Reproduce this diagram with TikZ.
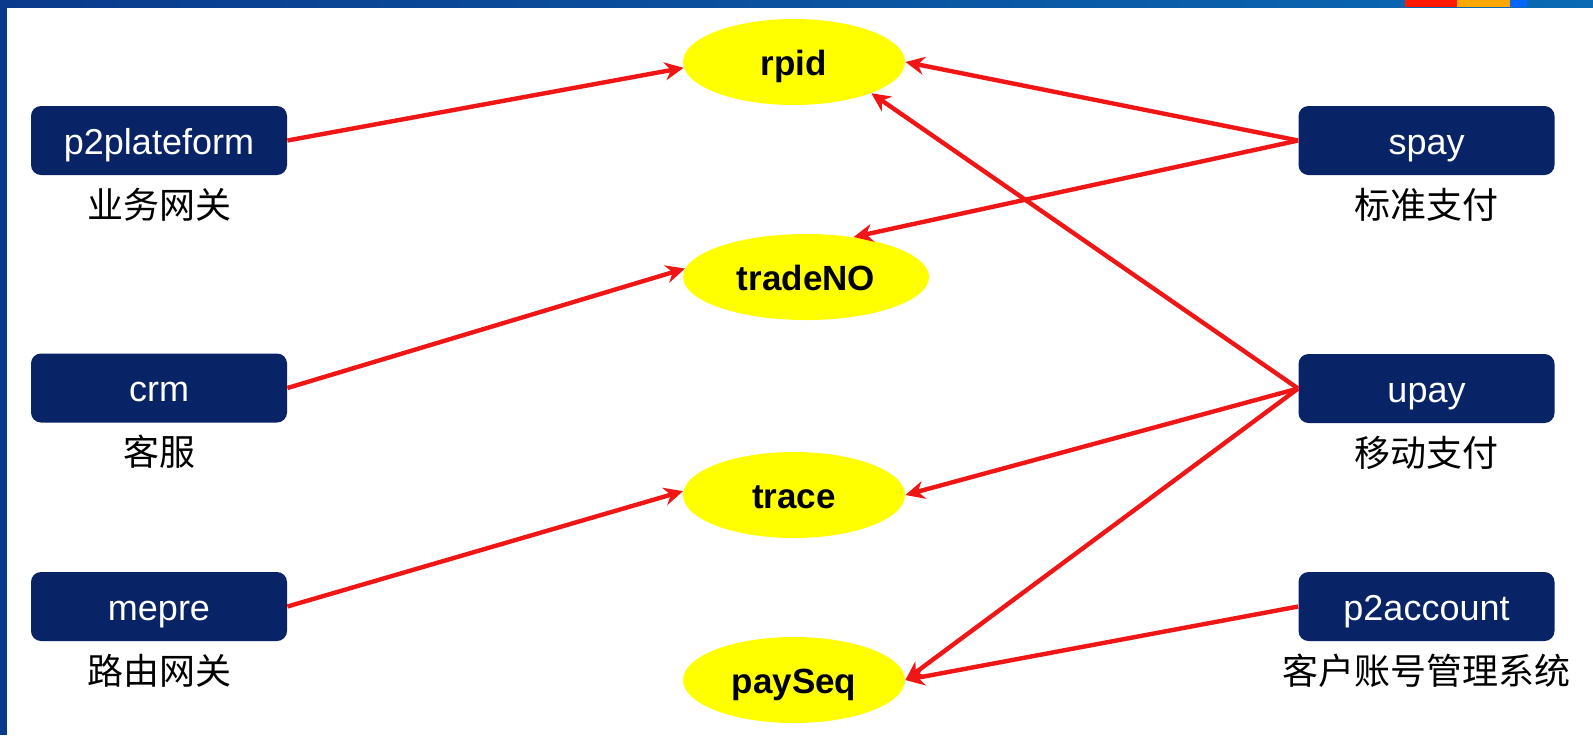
\documentclass[tikz,border=0pt]{standalone}
\usepackage{fontspec}
\setmainfont{Liberation Sans}
\newfontfamily\cjk{Noto Sans CJK SC}
\usetikzlibrary{shapes.geometric,arrows.meta,positioning}
\definecolor{navy}{RGB}{8,36,102}
\definecolor{slideblue}{RGB}{10,58,140}
\definecolor{slidelight}{RGB}{10,106,180}
\definecolor{keyred}{RGB}{240,22,22}
\definecolor{keyyellow}{RGB}{255,255,0}

\begin{document}
\begin{tikzpicture}[x=0.5pt,y=-0.5pt]
		\tikzstyle{sys}=[fill=navy, rounded corners=5pt, minimum width=128pt, minimum height=34.5pt, inner sep=0pt, text height=13.5pt, text depth=0pt, text=white, font=\fontsize{18}{20}\selectfont]
		\tikzstyle{desc}=[inner sep=0pt, font=\cjk\fontsize{18}{20}\selectfont]
		\tikzstyle{key}=[ellipse, fill=keyyellow, minimum width=111pt, minimum height=43pt, inner sep=0pt, text height=13pt, text depth=0pt, font=\bfseries\fontsize{17.5}{20}\selectfont]
		\tikzstyle{link}=[keyred, line width=2.2pt, -{Stealth[length=9.5pt,width=9pt]}]
		\useasboundingbox (0,0) rectangle (1593,735);
		\fill [white] (0,0) rectangle (1593,735);
		\shade [left color=slideblue, right color=slidelight] (0,0) rectangle (1593,7);
		\fill [slideblue] (0,0) rectangle (7,735);
		\fill [red!80!orange] (1405,0) rectangle (1457,7);
		\fill [orange!70!yellow] (1457,0) rectangle (1510,7);
		\fill [blue!60!cyan] (1510,0) rectangle (1527,7);
		\node [sys] (p2plateform) at (159,140.5) {p2plateform};
		\node [desc, below=6pt of p2plateform] (p2plateformdesc) {业务网关};
		\node [sys] (crm) at (159,388) {crm};
		\node [desc, below=6pt of crm] (crmdesc) {客服};
		\node [sys] (mepre) at (159,606.5) {mepre};
		\node [desc, below=6pt of mepre] (mepredesc) {路由网关};
		\node [sys] (spay) at (1426.5,140.5) {spay};
		\node [desc, below=6pt of spay] (spaydesc) {标准支付};
		\node [sys] (upay) at (1426.5,388.5) {upay};
		\node [desc, below=6pt of upay] (upaydesc) {移动支付};
		\node [sys] (p2account) at (1426.5,606.5) {p2account};
		\node [desc, below=6pt of p2account] (p2accountdesc) {客户账号管理系统};
		\node [key] (rpid) at (794,62) {rpid};
		\node [key, minimum width=123pt] (tradeNO) at (806,277) {tradeNO};
		\node [key] (trace) at (794,495) {trace};
		\node [key] (paySeq) at (794,680) {paySeq};
		\draw [link] (p2plateform.east) -- (rpid.183);
		\draw [link] (crm.east) -- (tradeNO.176);
		\draw [link] (mepre.east) -- (trace.178);
		\draw [link] (spay.west) -- (rpid.east);
		\draw [link] (spay.west) -- (tradeNO.40);
		\draw [link] (upay.west) -- (rpid.-22);
		\draw [link] (upay.west) -- (trace.east);
		\draw [link] (upay.west) -- (paySeq.east);
		\draw [link] (p2account.west) -- (paySeq.east);
	\end{tikzpicture}
\end{document}
